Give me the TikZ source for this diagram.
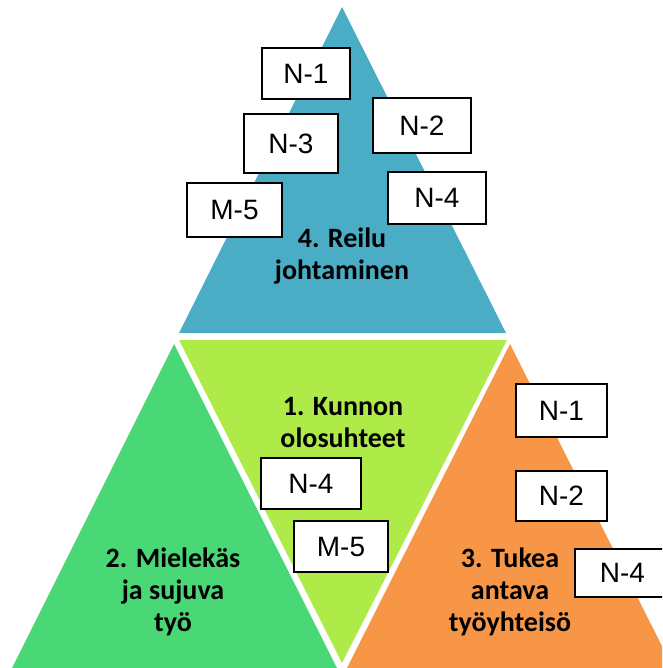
\documentclass[tikz,border=0pt]{standalone}
\usepackage{fontspec}
\newfontfamily\boxfont{Liberation Sans}
\newfontfamily\labfont{Carlito}
\definecolor{topblue}{HTML}{4BACC6}
\definecolor{limegr}{HTML}{AEEB48}
\definecolor{leftgr}{HTML}{4AD876}
\definecolor{rightor}{HTML}{F79646}
\begin{document}
\begin{tikzpicture}[x=1pt,y=-1pt,
  box/.style={draw=black, line width=1.3pt, fill=white, inner sep=0pt,
    font=\boxfont\fontsize{28}{28}\selectfont},
  lab/.style={font=\labfont\bfseries\fontsize{28}{32}\selectfont, align=center, text=black, inner sep=0pt}]
\useasboundingbox (0,0) rectangle (662,668);
\clip (0,0) rectangle (662,668);
% triangles
\fill[topblue] (342,7) -- (506,333) -- (179,333) -- cycle;
\fill[limegr] (179,340) -- (507,340) -- (342,663) -- cycle;
\fill[leftgr] (174,344) -- (337,668) -- (12,668) -- cycle;
\fill[rightor] (510,344) -- (673,668) -- (347,668) -- cycle;
% labels
\node[lab] (l4) at (342,256) {4. Reilu\\johtaminen};
\node[lab] (l1) at (343,423) {1. Kunnon\\olosuhteet};
\node[lab] (l2) at (173,592) {2. Mielekäs\\ja sujuva\\työ};
\node[lab] (l3) at (510,592) {3. Tukea\\antava\\työyhteisö};
% top boxes
\node[box, minimum width=88pt, minimum height=51pt] (tn1) at (306,73.5) {N-1};
\node[box, minimum width=98pt, minimum height=55pt] (tn2) at (422,125.5) {N-2};
\node[box, minimum width=94pt, minimum height=59pt] (tn3) at (291,143.5) {N-3};
\node[box, minimum width=98pt, minimum height=52pt] (tn4) at (437,198) {N-4};
\node[box, minimum width=95pt, minimum height=54pt] (tm5) at (234.5,210) {M-5};
% middle boxes
\node[box, minimum width=100pt, minimum height=51pt] (mn4) at (311,483.5) {N-4};
\node[box, minimum width=94pt, minimum height=51pt] (mm5) at (341,546.5) {M-5};
% right boxes
\node[box, minimum width=91pt, minimum height=53pt] (rn1) at (561.5,410.5) {N-1};
\node[box, minimum width=91pt, minimum height=50pt] (rn2) at (561.5,496) {N-2};
\node[box, minimum width=95pt, minimum height=48pt] (rn4) at (622.5,573) {N-4};
\end{tikzpicture}
\end{document}
